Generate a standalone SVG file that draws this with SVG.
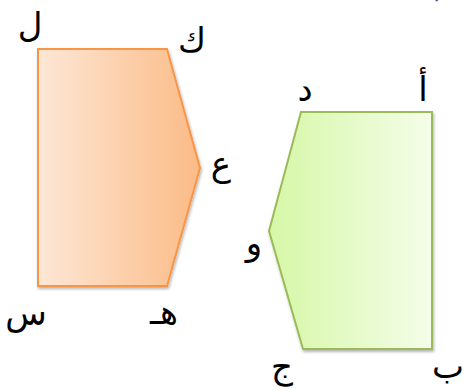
<svg xmlns="http://www.w3.org/2000/svg" width="464" height="390" viewBox="0 0 464 390">
<defs>
<linearGradient id="gOrange" x1="0" y1="0" x2="1" y2="0">
<stop offset="0" stop-color="#fde7d6"/>
<stop offset="1" stop-color="#fbbb86"/>
</linearGradient>
<linearGradient id="gGreen" x1="0" y1="0" x2="1" y2="0">
<stop offset="0" stop-color="#d6f7a6"/>
<stop offset="1" stop-color="#f4fde9"/>
</linearGradient>
<filter id="sh" x="-10%" y="-10%" width="130%" height="130%">
<feGaussianBlur in="SourceAlpha" stdDeviation="1.5"/>
<feOffset dx="1" dy="2" result="b"/>
<feComponentTransfer><feFuncA type="linear" slope="0.3"/></feComponentTransfer>
<feMerge><feMergeNode/><feMergeNode in="SourceGraphic"/></feMerge>
</filter>
</defs>
<style>
.lbl{font-family:"DejaVu Sans","Liberation Sans",sans-serif;font-size:34px;fill:#000;text-anchor:middle}
.orange{fill:url(#gOrange);stroke:#f79646;stroke-width:2}
.green{fill:url(#gGreen);stroke:#9bbb59;stroke-width:2}
</style>
<rect width="464" height="390" fill="#fff"/>
<text x="432" y="-3" style="font-family:'DejaVu Sans',sans-serif;font-size:30px;fill:#7030a0;text-anchor:middle">بـ</text>
<g id="shape-orange">
<polygon class="orange" filter="url(#sh)" points="38,49 167,49 200,168 167,286 38,286"/>
</g>
<g id="shape-green">
<polygon class="green" filter="url(#sh)" points="301,112 432,112 432,349 303,349 269,231"/>
</g>
<g id="labels">
<text class="lbl" x="30" y="37">ل</text>
<text class="lbl" x="192" y="52">ك</text>
<text class="lbl" x="221" y="176">ع</text>
<text class="lbl" x="254" y="255">و</text>
<text class="lbl" x="164" y="324">هـ</text>
<text class="lbl" x="26" y="325">س</text>
<text class="lbl" x="282" y="378">ج</text>
<text class="lbl" x="448" y="378">ب</text>
<text class="lbl" x="305" y="101">د</text>
<text class="lbl" x="423" y="101">أ</text>
</g>
</svg>
